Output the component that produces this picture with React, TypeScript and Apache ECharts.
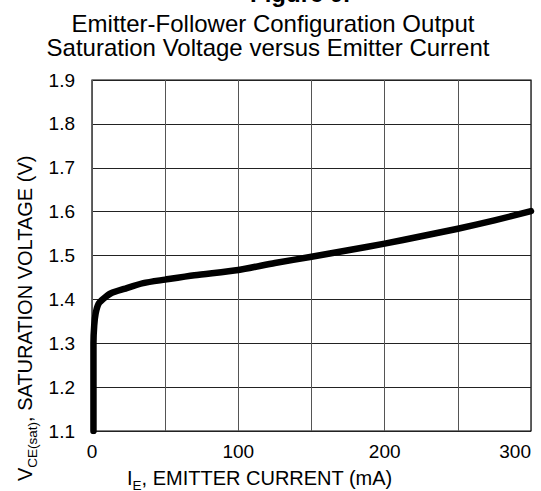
import React, { useEffect, useRef } from "react";
import * as echarts from "echarts";

const currentMA = [1, 1, 1.5, 2.5, 4.5, 8, 13, 22, 35, 50, 70, 100, 125, 150, 175, 200, 225, 250, 275, 300];
const satVoltage = [1.1, 1.3, 1.34, 1.368, 1.39, 1.402, 1.414, 1.424, 1.437, 1.445, 1.455, 1.467, 1.483, 1.497, 1.512, 1.527, 1.544, 1.561, 1.58, 1.601];
const xTickLabels = [0, 100, 200, 300];
const yTickLabels = [1.1, 1.2, 1.3, 1.4, 1.5, 1.6, 1.7, 1.8, 1.9];

const figureLabel = "Figure 9.";
const titleLine1 = "Emitter-Follower Configuration Output";
const titleLine2 = "Saturation Voltage versus Emitter Current";
const xName = "{m|I}{s|E}{m|, EMITTER CURRENT (mA)}";
const yName = "{m|V}{s|CE(sat)}{m|, SATURATION VOLTAGE (V)}";

const FONT = '"Liberation Sans", Arial, Helvetica, sans-serif';

export default function App() {
  const ref = useRef<HTMLDivElement>(null);

  useEffect(() => {
    if (!ref.current) return;
    const chart = echarts.init(ref.current, undefined, { renderer: "svg" });
    const data = currentMA.map((x, i) => [x, satVoltage[i]]);
    const rich = {
      m: { fontSize: 20, lineHeight: 28, fontFamily: FONT, fill: "#000", color: "#000" },
      s: { fontSize: 13.5, lineHeight: 14, verticalAlign: "bottom", fontFamily: FONT, fill: "#000", color: "#000" },
    };
    chart.setOption({
      animation: false,
      backgroundColor: "#fff",
      grid: { left: 92, right: 10, top: 80, bottom: 60, show: true, borderColor: "#000", borderWidth: 1.2 },
      xAxis: {
        type: "value",
        min: 0,
        max: 300,
        interval: 50,
        axisLine: { show: false },
        axisTick: { show: false },
        axisLabel: {
          margin: 10,
          fontSize: 19,
          lineHeight: 20,
          color: "#000",
          fontFamily: FONT,
          alignMaxLabel: "right",
          formatter: (v: number) => (xTickLabels.includes(v) ? String(v) : ""),
        },
        splitLine: { show: true, lineStyle: { color: "#555", width: 1 } },
      },
      yAxis: {
        type: "value",
        min: 1.1,
        max: 1.9,
        interval: 0.1,
        axisLine: { show: false },
        axisTick: { show: false },
        axisLabel: {
          margin: 17,
          fontSize: 19,
          color: "#000",
          fontFamily: FONT,
          padding: [0, 0, 5, 0],
          formatter: (v: number) => {
            const t = yTickLabels.find((y) => Math.abs(y - v) < 1e-6);
            return t !== undefined ? t.toFixed(1) : "";
          },
        },
        splitLine: { show: true, lineStyle: { color: "#222", width: 1 } },
      },
      series: [
        {
          type: "line",
          data,
          showSymbol: false,
          symbol: "none",
          smooth: 0.25,
          lineStyle: { color: "#000", width: 6.5, cap: "round", join: "round" },
        },
      ],
      graphic: [
        {
          type: "text",
          x: 300,
          y: -6.5,
          style: {
            text: figureLabel,
            fontSize: 24,
            fontWeight: "bold",
            fontFamily: FONT,
            fill: "#000",
            align: "center",
            verticalAlign: "middle",
            textAlign: "center",
            textVerticalAlign: "middle",
          },
        },
        {
          type: "text",
          x: 273,
          y: 23,
          style: {
            text: titleLine1,
            fontSize: 24,
            fontFamily: FONT,
            fill: "#000",
            align: "center",
            verticalAlign: "middle",
            textAlign: "center",
            textVerticalAlign: "middle",
          },
        },
        {
          type: "text",
          x: 268,
          y: 47.5,
          style: {
            text: titleLine2,
            fontSize: 24,
            fontFamily: FONT,
            fill: "#000",
            align: "center",
            verticalAlign: "middle",
            textAlign: "center",
            textVerticalAlign: "middle",
          },
        },
        {
          type: "text",
          x: 127,
          y: 478,
          style: {
            text: xName,
            rich,
            fill: "#000",
            fontSize: 20,
            fontFamily: FONT,
            align: "left",
            verticalAlign: "middle",
            textAlign: "left",
            textVerticalAlign: "middle",
          },
        },
        {
          type: "text",
          x: 25,
          y: 481,
          rotation: Math.PI / 2,
          style: {
            text: yName,
            rich,
            fill: "#000",
            fontSize: 20,
            fontFamily: FONT,
            align: "left",
            verticalAlign: "middle",
            textAlign: "left",
            textVerticalAlign: "middle",
          },
        },
      ],
    });
    return () => chart.dispose();
  }, []);

  return (
    <div
      ref={ref}
      style={{ position: "absolute", left: 0, top: 0, width: 541, height: 491 }}
    />
  );
}
